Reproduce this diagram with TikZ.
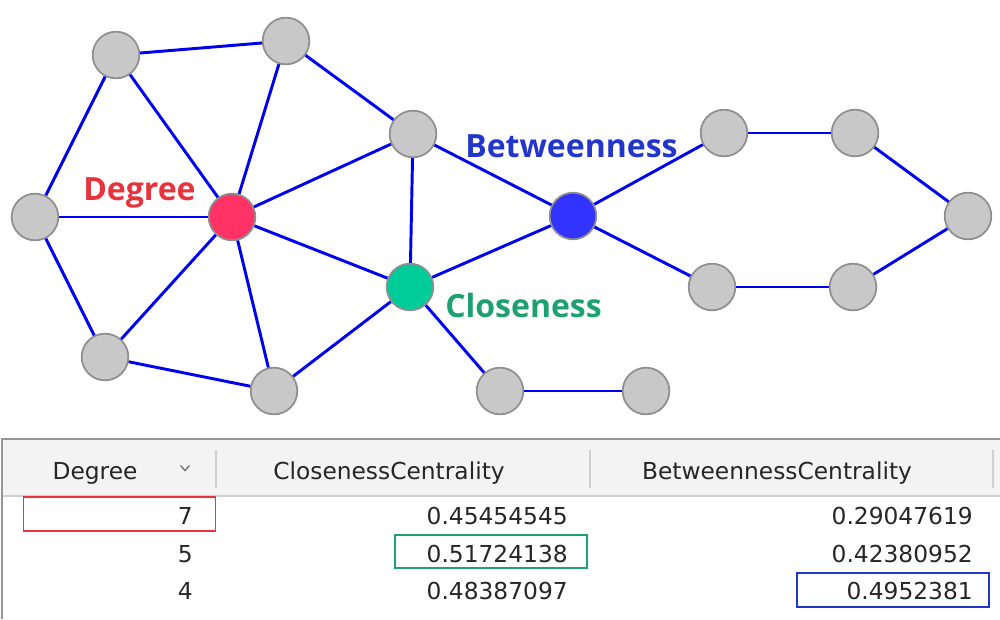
\documentclass[tikz,border=0pt]{standalone}
\usepackage{fontspec}
\usepackage{xcolor}
\usepackage{tikz}
\usetikzlibrary{positioning, calc}
\setmainfont{DejaVu Sans}
\newfontfamily\labelfont{Open Sans}

\definecolor{edgeblue}{RGB}{0,0,240}
\definecolor{nodegray}{RGB}{200,200,200}
\definecolor{nodeline}{RGB}{143,143,143}
\definecolor{degfill}{RGB}{255,51,102}
\definecolor{clofill}{RGB}{0,204,153}
\definecolor{betfill}{RGB}{51,51,255}
\definecolor{degtext}{RGB}{232,51,60}
\definecolor{clotext}{RGB}{31,160,113}
\definecolor{bettext}{RGB}{34,54,204}
\definecolor{headfill}{RGB}{243,243,243}
\definecolor{headline}{RGB}{208,208,208}
\definecolor{frameline}{RGB}{150,150,150}

\begin{document}
\begin{tikzpicture}[x=0.75pt, y=-0.75pt]
    \tikzset{vertex/.style = {circle, draw=nodeline, line width=1.3pt, fill=nodegray, minimum size=35pt, inner sep=0pt}}
    \tikzset{edge/.style = {draw=edgeblue, line width=2.2pt}}
    \tikzset{tag/.style = {anchor=base west, inner sep=0pt, font=\labelfont\bfseries\fontsize{24}{28}\selectfont}}
    \tikzset{cell/.style = {anchor=base east, inner sep=0pt, font=\fontsize{17.5}{20}\selectfont, text=black!85}}
    \tikzset{head/.style = {anchor=base, inner sep=0pt, font=\fontsize{17.5}{20}\selectfont, text=black!85}}
    \tikzset{mark box/.style = {rectangle, draw, line width=1.4pt, inner sep=0pt, minimum height=25pt, minimum width=144pt}}
    \tikzset{sep/.style = {draw=headline, line width=1.1pt}}

    \useasboundingbox (0,0) rectangle (1000,619);

    % Graph
    \node [vertex] (a) at (116,55) {};
    \node [vertex] (b) at (286,41) {};
    \node [vertex] (c) at (35,217) {};
    \node [vertex, fill=degfill] (deg) at (232,217) {};
    \node [vertex] (d) at (105,357) {};
    \node [vertex] (e) at (274,391) {};
    \node [vertex] (f) at (413,134) {};
    \node [vertex, fill=clofill] (clo) at (410,287) {};
    \node [vertex, fill=betfill] (bet) at (573,216) {};
    \node [vertex] (g) at (500,391) {};
    \node [vertex] (h) at (646,391) {};
    \node [vertex] (i) at (724,133) {};
    \node [vertex] (j) at (855,133) {};
    \node [vertex] (k) at (968,216) {};
    \node [vertex] (l) at (712,287) {};
    \node [vertex] (m) at (853,287) {};

    \node [tag, text=degtext] (degtag) at (83,200) {Degree};
    \node [tag, text=bettext] (bettag) at (465,157) {Betweenness};
    \node [tag, text=clotext] (clotag) at (445,317) {Closeness};

    % Connections
    \draw [edge] (a) -- (b);
    \draw [edge] (a) -- (c);
    \draw [edge] (a) -- (deg);
    \draw [edge] (b) -- (deg);
    \draw [edge] (b) -- (f);
    \draw [edge] (c) -- (deg);
    \draw [edge] (c) -- (d);
    \draw [edge] (d) -- (deg);
    \draw [edge] (d) -- (e);
    \draw [edge] (e) -- (deg);
    \draw [edge] (e) -- (clo);
    \draw [edge] (deg) -- (f);
    \draw [edge] (deg) -- (clo);
    \draw [edge] (f) -- (clo);
    \draw [edge] (f) -- (bet);
    \draw [edge] (clo) -- (bet);
    \draw [edge] (clo) -- (g);
    \draw [edge] (g) -- (h);
    \draw [edge] (bet) -- (i);
    \draw [edge] (bet) -- (l);
    \draw [edge] (i) -- (j);
    \draw [edge] (j) -- (k);
    \draw [edge] (k) -- (m);
    \draw [edge] (l) -- (m);

    % Table
    \fill [headfill] (2,440) rectangle (1000,496);
    \draw [draw=headline, line width=1.1pt] (2,496) -- (1000,496);
    \draw [draw=frameline, line width=1.6pt] (1,439) -- (1000,439);
    \draw [draw=frameline, line width=1.3pt] (2,439) -- (2,619);
    \draw [sep] (216,450) -- (216,488);
    \draw [sep] (590,450) -- (590,488);
    \draw [sep] (993,450) -- (993,488);

    \node [head] (hdeg) at (95,479) {Degree};
    \draw [draw=black!60, line width=0.9pt] (180.5,465.5) -- (185,470.5) -- (189.5,465.5);
    \node [head] (hclo) at (389,479) {ClosenessCentrality};
    \node [head] (hbet) at (777,479) {BetweennessCentrality};

    \node [cell] (d1) at (193,524) {7};
    \node [cell] (d2) at (193,562) {5};
    \node [cell] (d3) at (193,599) {4};
    \node [cell] (c1) at (568,524) {0.45454545};
    \node [cell] (c2) at (568,562) {0.51724138};
    \node [cell] (c3) at (568,599) {0.48387097};
    \node [cell] (b1) at (973,524) {0.29047619};
    \node [cell] (b2) at (973,562) {0.42380952};
    \node [cell] (b3) at (973,599) {0.4952381};

    \node [mark box, draw=degtext] (degbox) at (119.5,514) {};
    \node [mark box, draw=clotext] (clobox) at (491,551.5) {};
    \node [mark box, draw=bettext] (betbox) at (893,590) {};
\end{tikzpicture}
\end{document}
